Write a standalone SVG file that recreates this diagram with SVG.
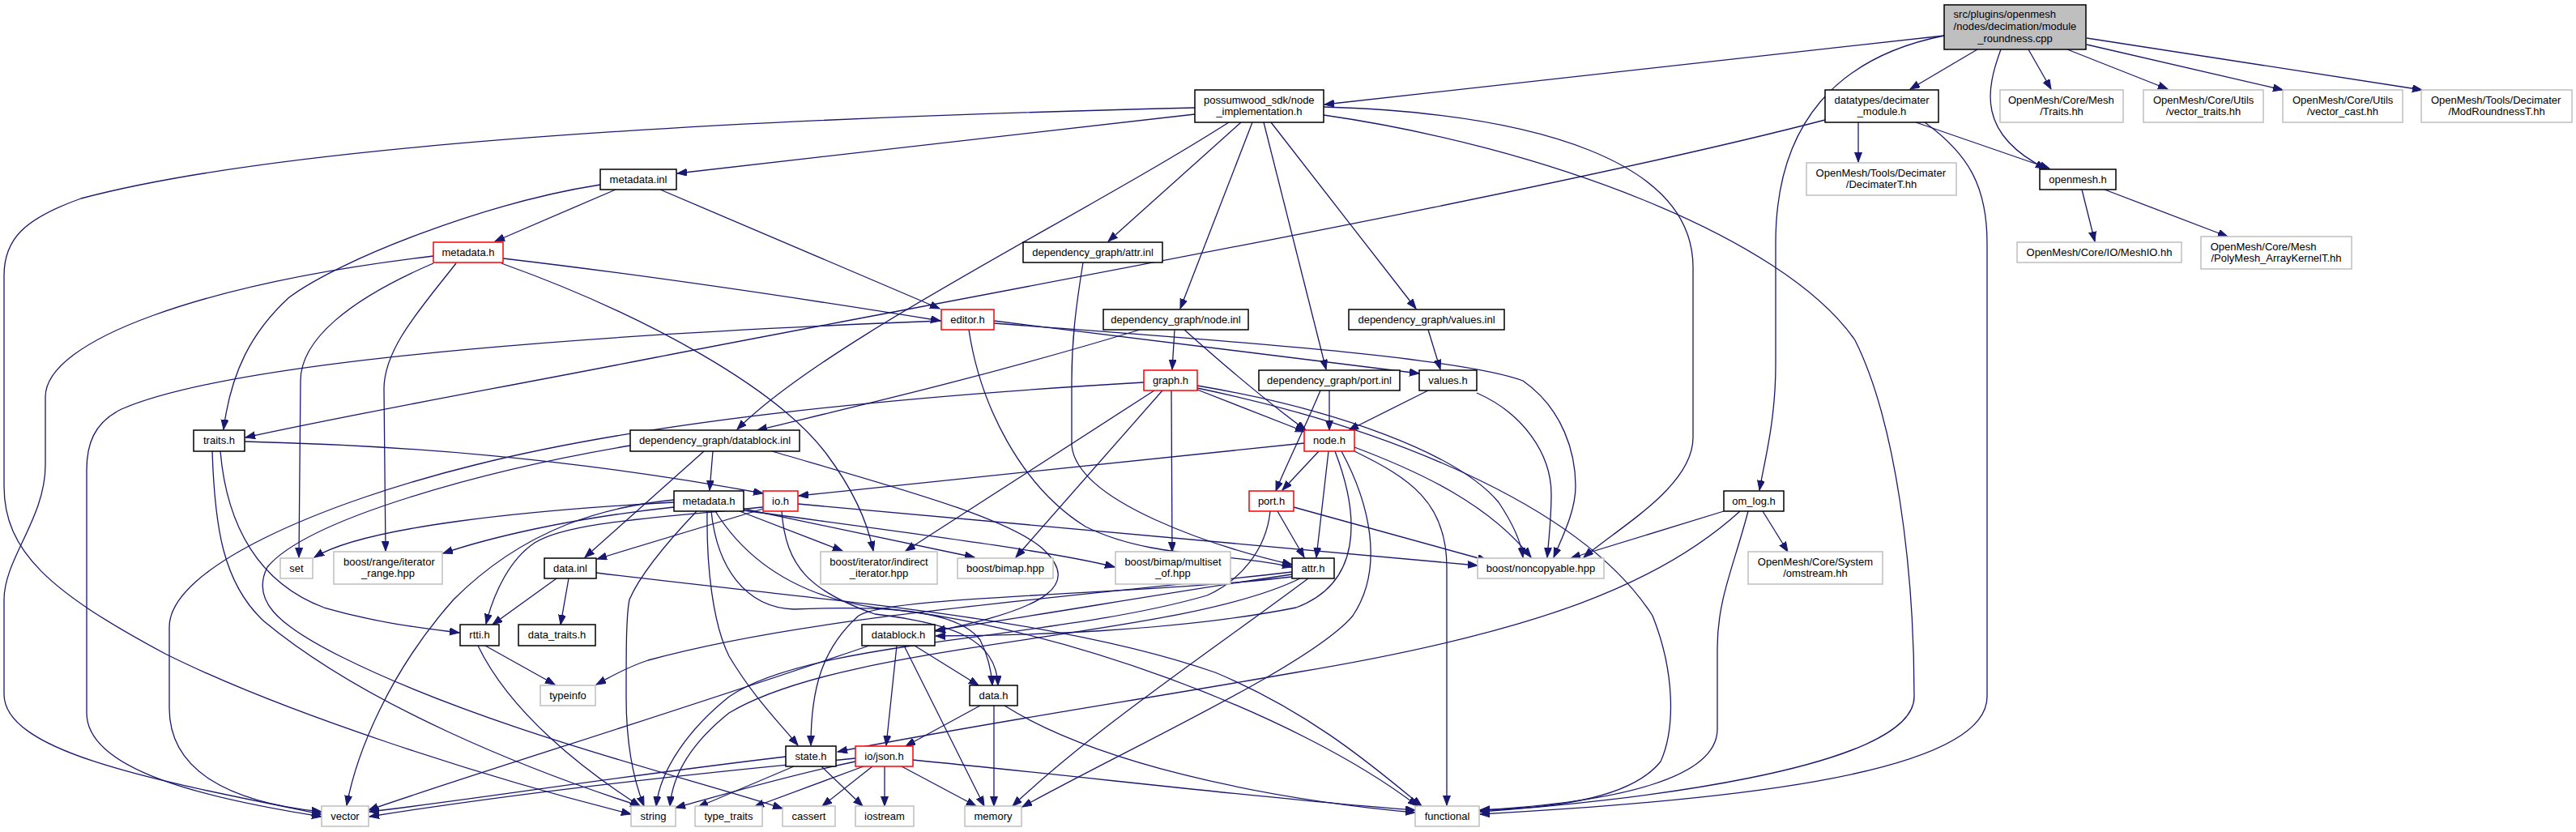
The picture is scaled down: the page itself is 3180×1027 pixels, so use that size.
<svg xmlns="http://www.w3.org/2000/svg" width="3180" height="1027" viewBox="0 0 3180 1027">
<defs>
<marker id="a" markerUnits="userSpaceOnUse" markerWidth="13" markerHeight="10" refX="12" refY="4.5" orient="auto" viewBox="0 0 13 10">
<path d="M0,0 L12,4.5 L0,9 z" fill="#191970" stroke="#191970" stroke-width="1"/>
</marker>
<style>
.e{fill:none;stroke:#191970;stroke-width:1.3;marker-end:url(#a)}
rect{fill:#fff;stroke:#000;stroke-width:1.5}
.r rect{stroke:#ff0000}
.g rect{stroke:#bfbfbf}
.root rect{fill:#bfbfbf}
text{font-family:"Liberation Sans",Arial,Helvetica,sans-serif;font-size:13px;fill:#000}
.c{text-anchor:middle}
</style>
</defs>
<rect x="0" y="0" width="3180" height="1027" style="fill:#fff;stroke:none"/>
<g id="edges">
<path class="e" d="M2400,44 L1635,129"/>
<path class="e" d="M2441,61 L2358,110"/>
<path class="e" d="M2470,61 C2452,110 2440,165 2525,208"/>
<path class="e" d="M2504,61 L2532,110"/>
<path class="e" d="M2552,61 L2676,110"/>
<path class="e" d="M2576,55 L2818,111"/>
<path class="e" d="M2576,47 L2990,111"/>
<path class="e" d="M2400,44 C2270,70 2192,150 2192,300 L2192,450 C2192,520 2178,570 2172,605"/>
<path class="e" d="M2253,148 C1900,240 1200,365 800,443 C600,482 450,508 303,540"/>
<path class="e" d="M2294,151 L2294,200"/>
<path class="e" d="M2365,151 L2530,208"/>
<path class="e" d="M2376,151 C2430,190 2453,230 2453,300 L2453,860 C2453,960 2100,990 1827,1005"/>
<path class="e" d="M2570,234 L2586,298"/>
<path class="e" d="M2598,234 L2750,292"/>
<path class="e" d="M1475,141 L836,214"/>
<path class="e" d="M1475,133 C1100,142 400,165 100,245 C30,270 5,295 5,340 L5,600 C5,680 60,730 204,807 C350,880 600,960 779,1005"/>
<path class="e" d="M1517,151 C1330,270 1020,420 910,530"/>
<path class="e" d="M1532,151 L1368,298"/>
<path class="e" d="M1546,151 L1457,381"/>
<path class="e" d="M1560,151 L1637,456"/>
<path class="e" d="M1569,151 C1600,190 1700,320 1748,381"/>
<path class="e" d="M1634,132 C1900,140 2090,200 2090,330 L2090,540 C2090,600 2000,650 1955,688"/>
<path class="e" d="M1634,142 C1900,180 2200,290 2290,420 C2340,520 2363,700 2363,860 C2363,950 2000,990 1827,1002"/>
<path class="e" d="M760,234 L611,298"/>
<path class="e" d="M815,234 L1160,381"/>
<path class="e" d="M741,228 C600,250 420,320 357,367 C310,410 285,460 276,530"/>
<path class="e" d="M535,316 C250,350 56,420 56,490 L56,574 C56,640 5,690 5,740 L5,857 C5,930 200,965 397,1005"/>
<path class="e" d="M535,325 C430,370 371,420 371,470 L369,688"/>
<path class="e" d="M563,325 C520,380 474,430 474,480 L476,680"/>
<path class="e" d="M621,319 C800,340 1000,370 1161,396"/>
<path class="e" d="M619,325 C800,390 960,480 1020,560 C1050,600 1070,640 1078,680"/>
<path class="e" d="M1337,324 C1328,380 1323,420 1323,470 L1323,550 C1330,620 1500,675 1595,697"/>
<path class="e" d="M1196,407 C1210,500 1260,600 1340,650 C1420,690 1520,682 1595,700"/>
<path class="e" d="M1162,396 C800,410 300,440 150,505 C115,522 107,550 107,580 L107,880 C107,950 250,985 397,1008"/>
<path class="e" d="M1227,396 L1752,461"/>
<path class="e" d="M1227,399 C1500,420 1800,440 1880,470 C1930,505 1945,560 1945,600 C1945,630 1930,660 1918,688"/>
<path class="e" d="M1450,407 L1447,456"/>
<path class="e" d="M1407,407 C1200,470 1020,510 935,531"/>
<path class="e" d="M1462,407 C1510,450 1570,500 1612,531"/>
<path class="e" d="M1763,407 L1778,456"/>
<path class="e" d="M1478,481 L1611,533"/>
<path class="e" d="M1478,476 C1650,505 1800,560 1850,620 C1870,650 1878,670 1880,688"/>
<path class="e" d="M1478,479 C1700,525 1950,620 2040,760 C2068,830 2068,900 2050,940 C2010,990 1900,998 1827,1000"/>
<path class="e" d="M1412,472 C1100,490 800,520 586,574 C400,620 209,700 209,774 L209,874 C209,950 280,990 397,1002"/>
<path class="e" d="M1425,482 L1118,680"/>
<path class="e" d="M1435,482 L1254,688"/>
<path class="e" d="M1446,482 L1447,681"/>
<path class="e" d="M1641,482 L1641,531"/>
<path class="e" d="M1630,482 C1610,530 1585,580 1575,606"/>
<path class="e" d="M1763,482 L1665,531"/>
<path class="e" d="M1823,485 C1880,510 1915,560 1915,610 C1915,640 1912,665 1910,688"/>
<path class="e" d="M302,545 C500,550 700,565 942,609"/>
<path class="e" d="M272,557 C280,650 320,720 400,750 C470,770 520,775 567,781"/>
<path class="e" d="M262,557 C265,650 275,720 326,767 C450,870 650,950 790,995"/>
<path class="e" d="M880,557 L876,605"/>
<path class="e" d="M869,557 L722,688"/>
<path class="e" d="M778,550 C600,580 380,640 330,700 C310,740 340,770 420,810 C600,900 850,960 966,998"/>
<path class="e" d="M953,557 C1100,600 1250,640 1290,680 C1330,720 1300,750 1155,779"/>
<path class="e" d="M1610,547 L986,612"/>
<path class="e" d="M1628,557 L1583,605"/>
<path class="e" d="M1640,557 L1625,688"/>
<path class="e" d="M1672,552 C1760,585 1840,625 1890,688"/>
<path class="e" d="M1672,557 C1740,590 1786,620 1786,700 L1786,994"/>
<path class="e" d="M1656,557 C1690,620 1710,700 1670,760 C1620,820 1400,920 1262,996"/>
<path class="e" d="M1648,557 C1680,640 1680,720 1600,750 C1450,780 1250,785 1155,785"/>
<path class="e" d="M832,620 C650,630 450,650 388,688"/>
<path class="e" d="M832,626 C700,640 600,665 547,683"/>
<path class="e" d="M832,617 C750,625 650,650 560,740 C480,830 440,930 428,994"/>
<path class="e" d="M860,631 C820,673 790,710 777,740 C773,760 773,800 773,860 C773,930 785,970 795,995"/>
<path class="e" d="M873,631 C872,700 880,770 900,810 C930,860 960,890 985,920"/>
<path class="e" d="M878,631 C885,700 920,750 980,752 C1080,748 1180,750 1210,790 C1220,810 1224,830 1225,846"/>
<path class="e" d="M883,631 C920,690 980,735 1080,750 C1300,770 1600,880 1750,995"/>
<path class="e" d="M913,631 L1040,680"/>
<path class="e" d="M918,628 L1203,688"/>
<path class="e" d="M918,630 C1100,655 1300,680 1376,700"/>
<path class="e" d="M942,628 L737,690"/>
<path class="e" d="M942,626 C800,640 700,645 660,670 C630,690 610,730 600,770"/>
<path class="e" d="M965,631 C970,700 1000,730 1080,758 C1180,770 1230,790 1232,846"/>
<path class="e" d="M985,622 L1824,698"/>
<path class="e" d="M1577,631 L1610,688"/>
<path class="e" d="M1597,626 L1836,692"/>
<path class="e" d="M1568,631 C1563,680 1530,717 1490,735 C1300,790 1000,790 900,860 C850,900 815,950 810,995"/>
<path class="e" d="M1595,706 C1300,740 1000,760 800,815 C770,825 755,835 736,845"/>
<path class="e" d="M1595,709 C1450,730 1250,765 1155,778"/>
<path class="e" d="M1595,712 C1400,735 1100,735 1060,760 C1015,800 1001,850 1001,920"/>
<path class="e" d="M1605,714 C1450,790 1050,790 900,880 C850,920 830,960 827,995"/>
<path class="e" d="M1615,714 C1500,800 1350,900 1250,995"/>
<path class="e" d="M599,797 L685,845"/>
<path class="e" d="M590,797 C630,880 720,950 790,995"/>
<path class="e" d="M687,714 L608,771"/>
<path class="e" d="M702,714 L692,771"/>
<path class="e" d="M736,707 C1000,740 1300,760 1500,830 C1620,880 1700,950 1755,995"/>
<path class="e" d="M1073,797 C800,890 600,950 455,1000"/>
<path class="e" d="M1107,797 L1094,920"/>
<path class="e" d="M1116,797 L1215,995"/>
<path class="e" d="M1129,797 L1208,846"/>
<path class="e" d="M1210,871 L1118,921"/>
<path class="e" d="M1227,871 L1227,995"/>
<path class="e" d="M1240,871 C1350,940 1550,985 1747,1003"/>
<path class="e" d="M1056,936 C800,960 600,985 456,1008"/>
<path class="e" d="M1056,940 C960,960 880,985 834,997"/>
<path class="e" d="M1066,946 L931,996"/>
<path class="e" d="M1077,946 L1015,995"/>
<path class="e" d="M1092,946 L1092,995"/>
<path class="e" d="M1113,946 L1205,995"/>
<path class="e" d="M1127,938 C1350,960 1600,990 1747,1000"/>
<path class="e" d="M970,934 C750,960 600,985 456,1002"/>
<path class="e" d="M980,946 L862,996"/>
<path class="e" d="M1014,946 L1065,995"/>
<path class="e" d="M2128,631 L1939,689"/>
<path class="e" d="M2148,631 C2050,720 1900,780 1600,830 C1400,865 1200,895 1034,928"/>
<path class="e" d="M2158,631 C2140,700 2120,740 2120,800 L2120,900 C2120,960 2000,990 1827,1000"/>
<path class="e" d="M2176,631 L2207,681"/>
</g>
<g id="n-root" class="root"><rect x="2400" y="6" width="175" height="55"/><text x="2411.6" y="22">src/plugins/openmesh</text><text x="2411.6" y="37">/nodes/decimation/module</text><text class="c" x="2487.5" y="52">_roundness.cpp</text></g>
<g id="n-psn"><rect x="1475" y="111" width="159" height="40"/><text x="1486" y="128">possumwood_sdk/node</text><text class="c" x="1554.5" y="142">_implementation.h</text></g>
<g id="n-dtm"><rect x="2253" y="111" width="140" height="40"/><text x="2264.5" y="128">datatypes/decimater</text><text class="c" x="2323" y="142">_module.h</text></g>
<g id="n-traitshh" class="g"><rect x="2469" y="111" width="152" height="40"/><text x="2479" y="128">OpenMesh/Core/Mesh</text><text class="c" x="2545" y="142">/Traits.hh</text></g>
<g id="n-vtraits" class="g"><rect x="2646" y="111" width="148" height="40"/><text x="2658" y="128">OpenMesh/Core/Utils</text><text class="c" x="2720" y="142">/vector_traits.hh</text></g>
<g id="n-vcast" class="g"><rect x="2818" y="111" width="148" height="40"/><text x="2830" y="128">OpenMesh/Core/Utils</text><text class="c" x="2892" y="142">/vector_cast.hh</text></g>
<g id="n-modr" class="g"><rect x="2989" y="111" width="186" height="40"/><text x="3001" y="128">OpenMesh/Tools/Decimater</text><text class="c" x="3082" y="142">/ModRoundnessT.hh</text></g>
<g id="n-openmesh"><rect x="2518" y="209" width="94" height="25"/><text class="c" x="2565" y="226">openmesh.h</text></g>
<g id="n-decimatert" class="g"><rect x="2230" y="201" width="185" height="40"/><text x="2241.6" y="218">OpenMesh/Tools/Decimater</text><text class="c" x="2322.5" y="232">/DecimaterT.hh</text></g>
<g id="n-meshio" class="g"><rect x="2490" y="299" width="203" height="25"/><text class="c" x="2591.5" y="316">OpenMesh/Core/IO/MeshIO.hh</text></g>
<g id="n-polymesh" class="g"><rect x="2717" y="292" width="186" height="40"/><text x="2728.7" y="309">OpenMesh/Core/Mesh</text><text class="c" x="2810" y="323">/PolyMesh_ArrayKernelT.hh</text></g>
<g id="n-metadatainl"><rect x="741" y="209" width="94" height="25"/><text class="c" x="788" y="226">metadata.inl</text></g>
<g id="n-metadatah1" class="r"><rect x="535" y="299" width="86" height="25"/><text class="c" x="578" y="316">metadata.h</text></g>
<g id="n-attrinl"><rect x="1263" y="299" width="172" height="25"/><text class="c" x="1349" y="316">dependency_graph/attr.inl</text></g>
<g id="n-editor" class="r"><rect x="1162" y="382" width="65" height="25"/><text class="c" x="1194.5" y="399">editor.h</text></g>
<g id="n-nodeinl"><rect x="1362" y="382" width="179" height="25"/><text class="c" x="1451.5" y="399">dependency_graph/node.inl</text></g>
<g id="n-valuesinl"><rect x="1665" y="382" width="192" height="25"/><text class="c" x="1761" y="399">dependency_graph/values.inl</text></g>
<g id="n-graph" class="r"><rect x="1412" y="457" width="66" height="25"/><text class="c" x="1445" y="474">graph.h</text></g>
<g id="n-portinl"><rect x="1554" y="457" width="174" height="25"/><text class="c" x="1641" y="474">dependency_graph/port.inl</text></g>
<g id="n-values"><rect x="1752" y="457" width="71" height="25"/><text class="c" x="1787.5" y="474">values.h</text></g>
<g id="n-traits"><rect x="239" y="531" width="63" height="26"/><text class="c" x="270.5" y="548">traits.h</text></g>
<g id="n-datablockinl"><rect x="778" y="531" width="209" height="26"/><text class="c" x="882.5" y="548">dependency_graph/datablock.inl</text></g>
<g id="n-node" class="r"><rect x="1610" y="531" width="62" height="26"/><text class="c" x="1641" y="548">node.h</text></g>
<g id="n-metadatah2"><rect x="832" y="606" width="86" height="25"/><text class="c" x="875" y="623">metadata.h</text></g>
<g id="n-io" class="r"><rect x="942" y="606" width="43" height="25"/><text class="c" x="963.5" y="623">io.h</text></g>
<g id="n-port" class="r"><rect x="1542" y="606" width="55" height="25"/><text class="c" x="1569.5" y="623">port.h</text></g>
<g id="n-omlog"><rect x="2128" y="606" width="74" height="25"/><text class="c" x="2165" y="623">om_log.h</text></g>
<g id="n-set" class="g"><rect x="346" y="689" width="40" height="25"/><text class="c" x="366" y="706">set</text></g>
<g id="n-itrange" class="g"><rect x="412" y="681" width="134" height="40"/><text x="424" y="698">boost/range/iterator</text><text class="c" x="479" y="712">_range.hpp</text></g>
<g id="n-datainl"><rect x="672" y="689" width="64" height="25"/><text class="c" x="704" y="706">data.inl</text></g>
<g id="n-indirect" class="g"><rect x="1013" y="681" width="144" height="40"/><text x="1024.3" y="698">boost/iterator/indirect</text><text class="c" x="1085" y="712">_iterator.hpp</text></g>
<g id="n-bimap" class="g"><rect x="1182" y="689" width="118" height="25"/><text class="c" x="1241" y="706">boost/bimap.hpp</text></g>
<g id="n-multiset" class="g"><rect x="1377" y="681" width="142" height="40"/><text x="1388.4" y="698">boost/bimap/multiset</text><text class="c" x="1448" y="712">_of.hpp</text></g>
<g id="n-attr"><rect x="1595" y="689" width="52" height="25"/><text class="c" x="1621" y="706">attr.h</text></g>
<g id="n-noncopyable" class="g"><rect x="1824" y="689" width="156" height="25"/><text class="c" x="1902" y="706">boost/noncopyable.hpp</text></g>
<g id="n-omstream" class="g"><rect x="2158" y="681" width="166" height="40"/><text x="2169.8" y="698">OpenMesh/Core/System</text><text class="c" x="2241" y="712">/omstream.hh</text></g>
<g id="n-rtti"><rect x="568" y="771" width="48" height="26"/><text class="c" x="592" y="788">rtti.h</text></g>
<g id="n-datatraits"><rect x="640" y="771" width="95" height="26"/><text class="c" x="687.5" y="788">data_traits.h</text></g>
<g id="n-datablock"><rect x="1064" y="771" width="90" height="26"/><text class="c" x="1109" y="788">datablock.h</text></g>
<g id="n-typeinfo" class="g"><rect x="667" y="846" width="68" height="25"/><text class="c" x="701" y="863">typeinfo</text></g>
<g id="n-data"><rect x="1197" y="846" width="59" height="25"/><text class="c" x="1226.5" y="863">data.h</text></g>
<g id="n-state"><rect x="970" y="921" width="62" height="25"/><text class="c" x="1001" y="938">state.h</text></g>
<g id="n-json" class="r"><rect x="1056" y="921" width="71" height="25"/><text class="c" x="1091.5" y="938">io/json.h</text></g>
<g id="n-vector" class="g"><rect x="397" y="995" width="58" height="25"/><text class="c" x="426" y="1012">vector</text></g>
<g id="n-string" class="g"><rect x="779" y="995" width="55" height="25"/><text class="c" x="806.5" y="1012">string</text></g>
<g id="n-typetraits" class="g"><rect x="858" y="995" width="83" height="25"/><text class="c" x="899.5" y="1012">type_traits</text></g>
<g id="n-cassert" class="g"><rect x="966" y="995" width="65" height="25"/><text class="c" x="998.5" y="1012">cassert</text></g>
<g id="n-iostream" class="g"><rect x="1056" y="995" width="72" height="25"/><text class="c" x="1092" y="1012">iostream</text></g>
<g id="n-memory" class="g"><rect x="1191" y="995" width="70" height="25"/><text class="c" x="1226" y="1012">memory</text></g>
<g id="n-functional" class="g"><rect x="1747" y="995" width="79" height="25"/><text class="c" x="1786.5" y="1012">functional</text></g>
</svg>
